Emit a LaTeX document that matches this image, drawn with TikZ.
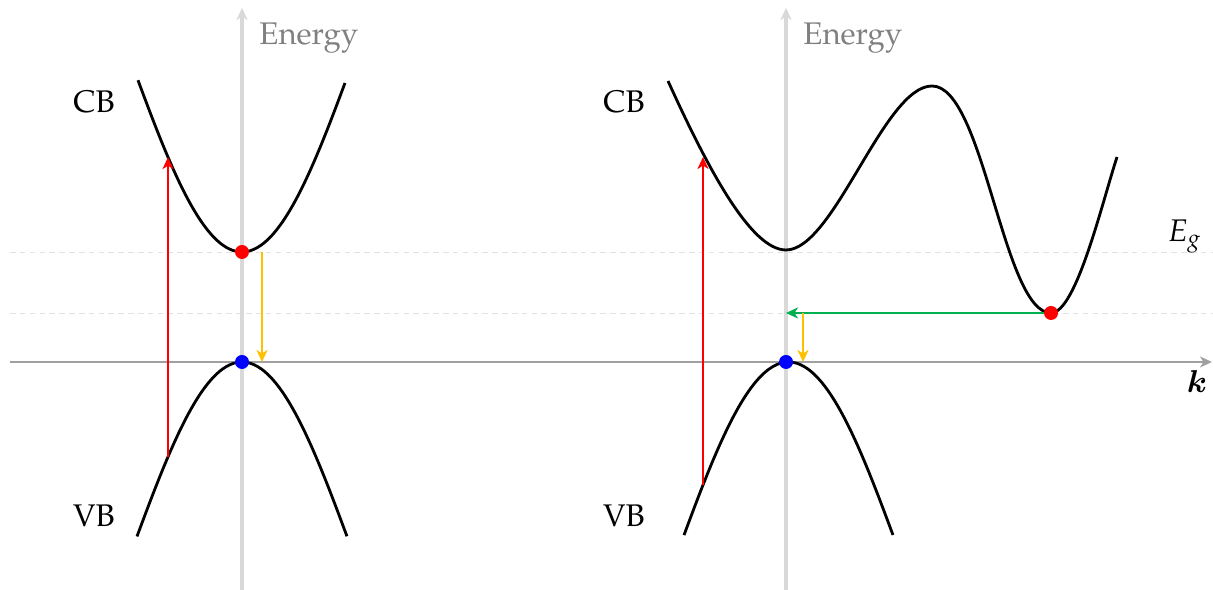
\documentclass[tikz,border=0pt]{standalone}
\usepackage{amsmath,bm}
\usepackage[T1]{fontenc}
\usepackage{mathpazo}
\usetikzlibrary{arrows.meta,calc,positioning}
\definecolor{axisgray}{RGB}{217,217,217}
\definecolor{kgray}{RGB}{160,160,160}
\definecolor{textgray}{RGB}{128,128,128}
\definecolor{guidegray}{RGB}{225,225,225}
\definecolor{emitgreen}{RGB}{0,176,80}
\definecolor{emityellow}{RGB}{255,192,0}
\newcommand{\carrier}[2]{\fill[#2] #1 circle (0.07);}
\newcommand{\bandfn}[1]{(1.88*(#1)*(#1)-0.27*(#1)*(#1)*(#1)*(#1))}

\begin{document}
\begin{tikzpicture}[>={Stealth[length=1.2mm,width=1.1mm,inset=0.35mm]},
  band/.style={line width=0.8pt,black},
  guide/.style={guidegray,dash pattern=on 1.6pt off 1.2pt,line width=0.25pt},
  lbl/.style={font=\fontsize{8.9}{10}\selectfont}]
\useasboundingbox (-2.42,-2.28) rectangle (9.71,3.62);
\coordinate (L) at (0,0);
\coordinate (R) at (5.44,0);
% guide lines and axes
\draw[guide] (-2.32,1.1) -- (9.71,1.1);
\draw[guide] (-2.32,0.49) -- (9.71,0.49);
\draw[->,kgray,line width=0.4pt] (-2.32,0) -- (9.70,0);
\node[lbl,anchor=base] (kax) at (9.55,-0.31) {$\bm{k}$};
\node[lbl,anchor=base] (eg) at (9.43,1.2) {$E_g$};
\foreach \o in {L,R}{
  \draw[->,axisgray,line width=0.9pt] ($(\o)+(0,-2.28)$) -- ($(\o)+(0,3.54)$);
  \node[lbl,textgray,anchor=base west] at ($(\o)+(0.05,3.17)$) {Energy};
}

% direct gap
\begin{scope}[shift={(L)}]
\draw[band] plot[domain=-1.04:1.03,samples=60,smooth] (\x,{1.1+\bandfn{\x}});
\draw[band] plot[domain=-1.05:1.05,samples=60,smooth] (\x,{-\bandfn{\x}});
\node[lbl,anchor=base] at (-1.48,2.49) {CB};
\node[lbl,anchor=base] at (-1.48,-1.65) {VB};
\coordinate (absL0) at (-0.74,{-\bandfn{-0.74}});
\coordinate (absL1) at (-0.74,{1.1+\bandfn{-0.74}});
\draw[->,red,line width=0.6pt] (absL0) -- (absL1);
\coordinate (emL0) at (0.2,1.1);
\coordinate (emL1) at (0.2,0);
\draw[->,emityellow,line width=0.6pt] (emL0) -- (emL1);
\carrier{(0,1.1)}{red}
\carrier{(0,0)}{blue}
\end{scope}

% indirect gap
\begin{scope}[shift={(R)}]
\draw[band] (-1.18,2.81) .. controls (-0.78,1.93) and (-0.35,1.12) .. (0,1.12)
  .. controls (0.48,1.12) and (0.98,2.76) .. (1.46,2.76)
  .. controls (1.98,2.76) and (2.17,0.49) .. (2.65,0.49)
  .. controls (2.9,0.49) and (3.16,1.59) .. (3.31,2.05);
\draw[band] plot[domain=-1.02:1.07,samples=60,smooth] (\x,{-\bandfn{\x-0.025}});
\node[lbl,anchor=base] at (-1.62,2.49) {CB};
\node[lbl,anchor=base] at (-1.62,-1.65) {VB};
\coordinate (absR0) at (-0.83,{-\bandfn{-0.855}});
\coordinate (absR1) at (-0.83,2.05);
\draw[->,red,line width=0.6pt] (absR0) -- (absR1);
\coordinate (minR) at (2.65,0.49);
\coordinate (gamR) at (0,0.49);
\draw[->,emitgreen,line width=0.6pt] (minR) -- (gamR);
\coordinate (emR0) at (0.17,0.49);
\coordinate (emR1) at (0.17,0);
\draw[->,emityellow,line width=0.6pt] (emR0) -- (emR1);
\carrier{(minR)}{red}
\carrier{(0,0)}{blue}
\end{scope}
\end{tikzpicture}
\end{document}
